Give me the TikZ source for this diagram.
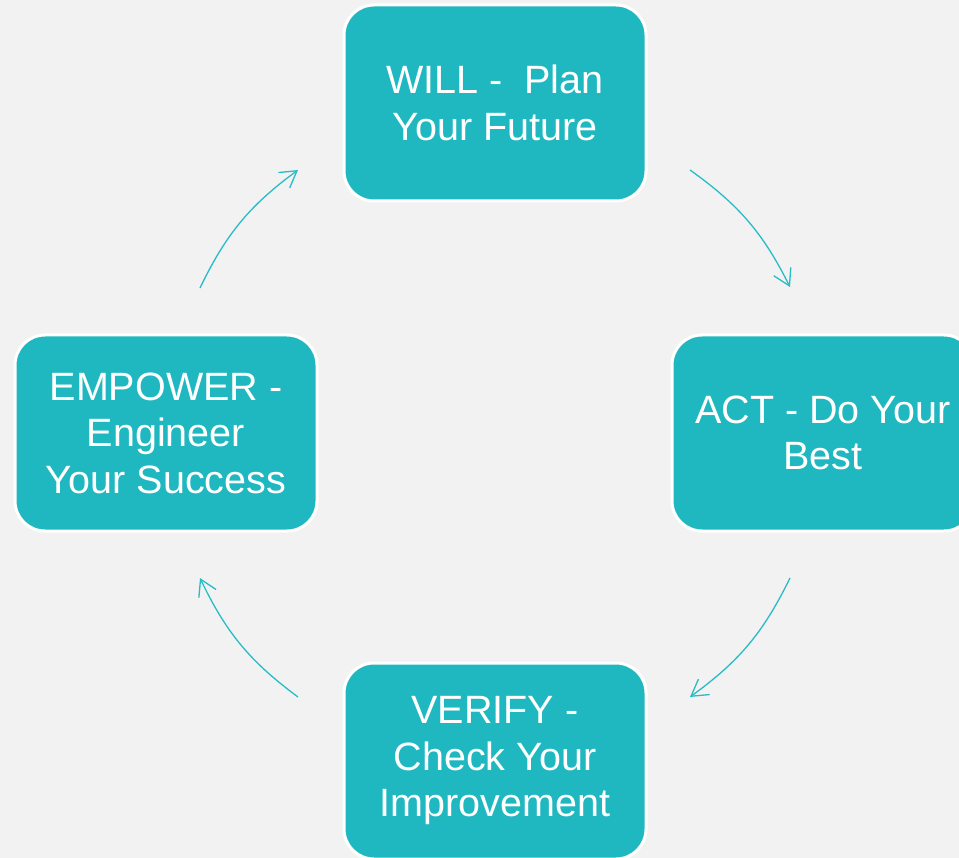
\documentclass[tikz,border=0pt]{standalone}
\usepackage{fontspec}
\setmainfont{Liberation Sans}
\usetikzlibrary{arrows.meta}
\definecolor{cycbg}{RGB}{242,242,242}
\definecolor{cycfill}{RGB}{32,184,192}
\definecolor{cycline}{RGB}{40,188,198}
\tikzset{
  stage/.style={draw=white, line width=3pt, fill=cycfill, rounded corners=30pt,
    minimum width=302pt, minimum height=196pt, text=white, align=center,
    font=\fontsize{39.5}{46.5}\selectfont},
  turn/.style={draw=cycline, line width=1.3pt,
    -{Straight Barb[length=16pt,width=19pt]}, bend left=14}
}

\begin{document}
\begin{tikzpicture}[x=1pt,y=-1pt]
      \fill[cycbg] (0,0) rectangle (959,858);
      \useasboundingbox (0,0) rectangle (959,858);

      \node[stage] (will) at (495,103) {WILL -\ \ Plan\\Your Future};
      \node[stage] (act) at (823,433) {ACT - Do Your\\Best};
      \node[stage] (verify) at (495,761) {VERIFY -\\Check Your\\Improvement};
      \node[stage] (empower) at (166,433) {EMPOWER -\\Engineer\\Your Success};

      \coordinate (willr) at (690,170);
      \coordinate (actt) at (790,287);
      \coordinate (actb) at (790,578);
      \coordinate (verifyr) at (690,697);
      \coordinate (verifyl) at (298,697);
      \coordinate (empowerb) at (200,578);
      \coordinate (empowert) at (200,288);
      \coordinate (willl) at (298,170);

      \draw[turn] (willr) to (actt);
      \draw[turn] (actb) to (verifyr);
      \draw[turn] (verifyl) to (empowerb);
      \draw[turn] (empowert) to (willl);
\end{tikzpicture}
\end{document}
